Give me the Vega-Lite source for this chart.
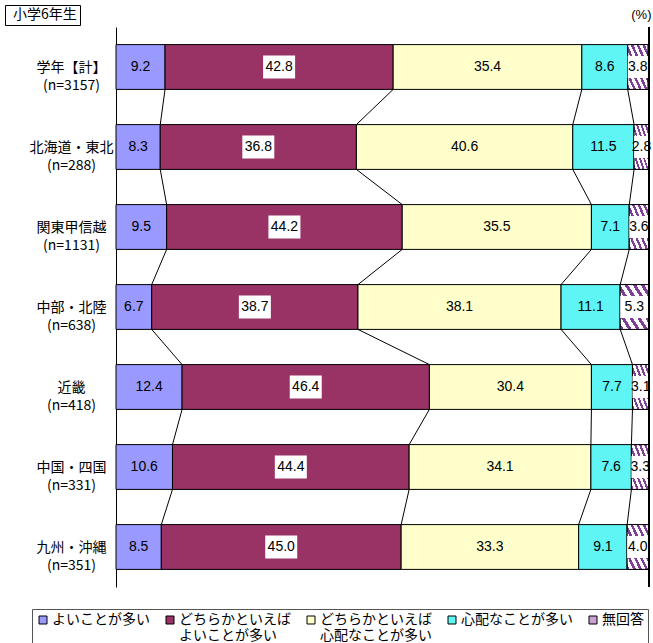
{
  "$schema": "https://vega.github.io/schema/vega-lite/v6.json",
  "width": 533,
  "height": 560,
  "autosize": {"type": "none"},
  "padding": {"left": 116, "top": 27, "right": 4, "bottom": 56},
  "config": {"font": "Liberation Sans, Noto Sans CJK JP", "view": {"stroke": null}},
  "data": {"values": [
    {"cat": "学年【計】|(n=3157)", "resp": "よいことが多い", "k": 1, "value": 9.2},
    {"cat": "学年【計】|(n=3157)", "resp": "どちらかといえば|よいことが多い", "k": 2, "value": 42.8},
    {"cat": "学年【計】|(n=3157)", "resp": "どちらかといえば|心配なことが多い", "k": 3, "value": 35.4},
    {"cat": "学年【計】|(n=3157)", "resp": "心配なことが多い", "k": 4, "value": 8.6},
    {"cat": "学年【計】|(n=3157)", "resp": "無回答", "k": 5, "value": 3.8},
    {"cat": "北海道・東北|(n=288)", "resp": "よいことが多い", "k": 1, "value": 8.3},
    {"cat": "北海道・東北|(n=288)", "resp": "どちらかといえば|よいことが多い", "k": 2, "value": 36.8},
    {"cat": "北海道・東北|(n=288)", "resp": "どちらかといえば|心配なことが多い", "k": 3, "value": 40.6},
    {"cat": "北海道・東北|(n=288)", "resp": "心配なことが多い", "k": 4, "value": 11.5},
    {"cat": "北海道・東北|(n=288)", "resp": "無回答", "k": 5, "value": 2.8},
    {"cat": "関東甲信越|(n=1131)", "resp": "よいことが多い", "k": 1, "value": 9.5},
    {"cat": "関東甲信越|(n=1131)", "resp": "どちらかといえば|よいことが多い", "k": 2, "value": 44.2},
    {"cat": "関東甲信越|(n=1131)", "resp": "どちらかといえば|心配なことが多い", "k": 3, "value": 35.5},
    {"cat": "関東甲信越|(n=1131)", "resp": "心配なことが多い", "k": 4, "value": 7.1},
    {"cat": "関東甲信越|(n=1131)", "resp": "無回答", "k": 5, "value": 3.6},
    {"cat": "中部・北陸|(n=638)", "resp": "よいことが多い", "k": 1, "value": 6.7},
    {"cat": "中部・北陸|(n=638)", "resp": "どちらかといえば|よいことが多い", "k": 2, "value": 38.7},
    {"cat": "中部・北陸|(n=638)", "resp": "どちらかといえば|心配なことが多い", "k": 3, "value": 38.1},
    {"cat": "中部・北陸|(n=638)", "resp": "心配なことが多い", "k": 4, "value": 11.1},
    {"cat": "中部・北陸|(n=638)", "resp": "無回答", "k": 5, "value": 5.3},
    {"cat": "近畿|(n=418)", "resp": "よいことが多い", "k": 1, "value": 12.4},
    {"cat": "近畿|(n=418)", "resp": "どちらかといえば|よいことが多い", "k": 2, "value": 46.4},
    {"cat": "近畿|(n=418)", "resp": "どちらかといえば|心配なことが多い", "k": 3, "value": 30.4},
    {"cat": "近畿|(n=418)", "resp": "心配なことが多い", "k": 4, "value": 7.7},
    {"cat": "近畿|(n=418)", "resp": "無回答", "k": 5, "value": 3.1},
    {"cat": "中国・四国|(n=331)", "resp": "よいことが多い", "k": 1, "value": 10.6},
    {"cat": "中国・四国|(n=331)", "resp": "どちらかといえば|よいことが多い", "k": 2, "value": 44.4},
    {"cat": "中国・四国|(n=331)", "resp": "どちらかといえば|心配なことが多い", "k": 3, "value": 34.1},
    {"cat": "中国・四国|(n=331)", "resp": "心配なことが多い", "k": 4, "value": 7.6},
    {"cat": "中国・四国|(n=331)", "resp": "無回答", "k": 5, "value": 3.3},
    {"cat": "九州・沖縄|(n=351)", "resp": "よいことが多い", "k": 1, "value": 8.5},
    {"cat": "九州・沖縄|(n=351)", "resp": "どちらかといえば|よいことが多い", "k": 2, "value": 45.0},
    {"cat": "九州・沖縄|(n=351)", "resp": "どちらかといえば|心配なことが多い", "k": 3, "value": 33.3},
    {"cat": "九州・沖縄|(n=351)", "resp": "心配なことが多い", "k": 4, "value": 9.1},
    {"cat": "九州・沖縄|(n=351)", "resp": "無回答", "k": 5, "value": 4.0}
  ]},
  "transform": [
    {"stack": "value", "groupby": ["cat"], "sort": [{"field": "k", "order": "ascending"}], "as": ["v0", "v1"]},
    {"calculate": "(datum.v0 + datum.v1) / 2", "as": "mid"}
  ],
  "layer": [
    {
      "mark": {"type": "bar", "stroke": "black", "strokeWidth": 1},
      "encoding": {
        "y": {"field": "cat", "type": "nominal", "sort": null, "title": null,
          "scale": {"paddingInner": 0.44, "paddingOuter": 0.22},
          "axis": {"domainColor": "black", "tickColor": "black", "tickBand": "extent", "tickSize": -5,
            "labelPadding": 50, "labelAlign": "center", "labelBaseline": "middle", "labelFontSize": 14,
            "labelColor": "black", "labelFont": "Noto Sans CJK JP", "labelLineHeight": 18,
            "labelLimit": 0, "labelExpr": "split(datum.label, '|')"}},
        "x": {"field": "v0", "type": "quantitative", "title": "(%)",
          "scale": {"domain": [0, 100], "nice": false},
          "axis": {"orient": "top", "labels": false, "ticks": false, "domain": false, "grid": false,
            "titleX": 535, "titleY": -13, "titleAlign": "right", "titleBaseline": "middle",
            "titleFontSize": 13, "titleFontWeight": "normal", "titleColor": "black"}},
        "x2": {"field": "v1"},
        "color": {"field": "resp", "type": "nominal",
          "scale": {"domain": ["よいことが多い", "どちらかといえば|よいことが多い", "どちらかといえば|心配なことが多い", "心配なことが多い", "無回答"],
            "range": ["#9999FF", "#993366", "#FFFFCC", "#5FF5F5", "#C8A2D0"]},
          "legend": {"title": null, "orient": "none", "legendX": -84, "legendY": 582, "direction": "horizontal",
            "columns": 5, "symbolType": "square", "symbolSize": 64, "symbolStrokeColor": "black",
            "symbolStrokeWidth": 1, "labelFontSize": 14, "labelFont": "Noto Sans CJK JP", "labelColor": "black",
            "labelLimit": 0, "labelExpr": "split(indexof(datum.label, '|') < 0 ? datum.label + '|' : datum.label, '|')",
            "labelBaseline": "middle", "labelOffset": 2,
            "columnPadding": 13, "padding": 4, "strokeColor": "#555555"}}
      }
    },
    {
      "transform": [{"filter": "datum.k == 5"}],
      "mark": {"type": "bar", "stroke": "black", "strokeWidth": 1,
        "fill": {"gradient": "linear", "x1": 0, "y1": 1, "x2": 1, "y2": 0, "stops": [
          {"offset": 0, "color": "#7F3F98"}, {"offset": 0.064, "color": "#7F3F98"}, {"offset": 0.064, "color": "white"}, {"offset": 0.143, "color": "white"},
          {"offset": 0.143, "color": "#7F3F98"}, {"offset": 0.207, "color": "#7F3F98"}, {"offset": 0.207, "color": "white"}, {"offset": 0.286, "color": "white"},
          {"offset": 0.286, "color": "#7F3F98"}, {"offset": 0.35, "color": "#7F3F98"}, {"offset": 0.35, "color": "white"}, {"offset": 0.429, "color": "white"},
          {"offset": 0.429, "color": "#7F3F98"}, {"offset": 0.493, "color": "#7F3F98"}, {"offset": 0.493, "color": "white"}, {"offset": 0.571, "color": "white"},
          {"offset": 0.571, "color": "#7F3F98"}, {"offset": 0.636, "color": "#7F3F98"}, {"offset": 0.636, "color": "white"}, {"offset": 0.714, "color": "white"},
          {"offset": 0.714, "color": "#7F3F98"}, {"offset": 0.779, "color": "#7F3F98"}, {"offset": 0.779, "color": "white"}, {"offset": 0.857, "color": "white"},
          {"offset": 0.857, "color": "#7F3F98"}, {"offset": 0.921, "color": "#7F3F98"}, {"offset": 0.921, "color": "white"}, {"offset": 1, "color": "white"}
        ]}},
      "encoding": {
        "y": {"field": "cat", "type": "nominal", "sort": null, "title": null},
        "x": {"field": "v0", "type": "quantitative", "title": "(%)"},
        "x2": {"field": "v1"}
      }
    },
    {
      "transform": [{"filter": "datum.k == 5"}],
      "mark": {"type": "bar", "fill": "white", "height": {"band": 0.49}},
      "encoding": {
        "y": {"field": "cat", "type": "nominal", "sort": null, "title": null},
        "x": {"field": "v0", "type": "quantitative", "title": "(%)"},
        "x2": {"field": "v1"}
      }
    },
    {
      "transform": [{"filter": "datum.k == 2"}],
      "mark": {"type": "point", "shape": "M-1,-0.72L1,-0.72L1,0.72L-1,0.72Z", "filled": true, "fill": "white",
        "opacity": 1, "size": 1024, "strokeWidth": 0},
      "encoding": {
        "y": {"field": "cat", "type": "nominal", "sort": null, "title": null},
        "x": {"field": "mid", "type": "quantitative", "title": "(%)"}
      }
    },
    {
      "mark": {"type": "text", "fontSize": 14, "color": "black", "font": "Liberation Sans"},
      "encoding": {
        "y": {"field": "cat", "type": "nominal", "sort": null, "title": null},
        "x": {"field": "mid", "type": "quantitative", "title": "(%)"},
        "text": {"field": "value", "type": "quantitative", "format": ".1f"}
      }
    },
    {
      "transform": [
        {"filter": "datum.k < 5"},
        {"window": [{"op": "lead", "field": "v1", "as": "nv1"}, {"op": "lead", "field": "cat", "as": "ncat"}], "groupby": ["k"]},
        {"filter": "datum.ncat != null"}
      ],
      "mark": {"type": "rule", "color": "black", "strokeWidth": 1},
      "encoding": {
        "y": {"field": "cat", "type": "nominal", "sort": null, "title": null, "bandPosition": 1},
        "y2": {"field": "ncat", "bandPosition": 0},
        "x": {"field": "v1", "type": "quantitative", "title": "(%)"},
        "x2": {"field": "nv1"}
      }
    },
    {
      "mark": {"type": "rule", "color": "black", "strokeWidth": 1},
      "encoding": {
        "x": {"datum": 100, "type": "quantitative", "title": "(%)"}
      }
    },
    {
      "data": {"values": [{"g": "小学6年生"}]},
      "mark": {"type": "point", "opacity": 0},
      "encoding": {
        "shape": {"field": "g", "type": "nominal",
          "legend": {"title": null, "orient": "none", "legendX": -111, "legendY": -22, "symbolSize": 0,
            "symbolStrokeWidth": 0, "symbolOpacity": 0, "labelOffset": -9, "labelFontSize": 14,
            "labelFont": "Noto Sans CJK JP", "labelColor": "black", "strokeColor": "black", "padding": 3,
            "labelLimit": 0}}
      }
    }
  ]
}
